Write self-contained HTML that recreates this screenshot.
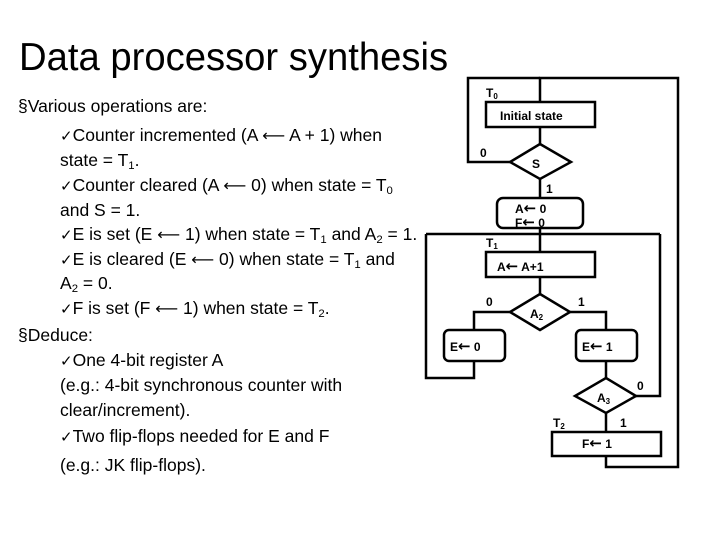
<!DOCTYPE html>
<html><head><style>
body{margin:0;width:720px;height:540px;background:#fff;position:relative;overflow:hidden;font-family:"Liberation Sans",sans-serif;}
.t{position:absolute;white-space:nowrap;font-size:17.5px;color:#000;line-height:1;}
.a{font-family:"DejaVu Sans",sans-serif;font-size:16px;}
.c{font-family:"DejaVu Sans",sans-serif;font-size:15px;}
h1{position:absolute;left:19px;top:38px;margin:0;font-weight:normal;font-size:39px;line-height:1;white-space:nowrap;transform:scaleX(0.98);transform-origin:left;}
sub{font-size:0.65em;vertical-align:-0.25em;line-height:0;}
</style></head><body>
<h1>Data processor synthesis</h1>
<div class="t" style="left:18px;top:98px">§Various operations are:</div>
<div class="t" style="left:60px;top:127px"><span class="c">✓</span>Counter incremented (A <span class="a">⟵</span> A + 1) when</div>
<div class="t" style="left:60px;top:152px">state = T<sub>1</sub>.</div>
<div class="t" style="left:60px;top:177px"><span class="c">✓</span>Counter cleared (A <span class="a">⟵</span> 0) when state = T<sub>0</sub></div>
<div class="t" style="left:60px;top:202px">and S = 1.</div>
<div class="t" style="left:60px;top:226px"><span class="c">✓</span>E is set (E <span class="a">⟵</span> 1) when state = T<sub>1</sub> and A<sub>2</sub> = 1.</div>
<div class="t" style="left:60px;top:251px"><span class="c">✓</span>E is cleared (E <span class="a">⟵</span> 0) when state = T<sub>1</sub> and</div>
<div class="t" style="left:60px;top:275px">A<sub>2</sub> = 0.</div>
<div class="t" style="left:60px;top:300px"><span class="c">✓</span>F is set (F <span class="a">⟵</span> 1) when state = T<sub>2</sub>.</div>
<div class="t" style="left:18px;top:327px">§Deduce:</div>
<div class="t" style="left:60px;top:352px"><span class="c">✓</span>One 4-bit register A</div>
<div class="t" style="left:60px;top:377px">(e.g.: 4-bit synchronous counter with</div>
<div class="t" style="left:60px;top:402px">clear/increment).</div>
<div class="t" style="left:60px;top:428px"><span class="c">✓</span>Two flip-flops needed for E and F</div>
<div class="t" style="left:60px;top:457px">(e.g.: JK flip-flops).</div>
<svg width="720" height="540" style="position:absolute;left:0;top:0" font-family="Liberation Sans,sans-serif" font-weight="bold" font-size="12">
<g fill="none" stroke="#000" stroke-width="2.5">
<polyline points="540,102 540,78 678,78 678,467 606,467 606,456"/>
<polyline points="540,127 540,144"/>
<polyline points="510,162 468,162 468,78 540,78"/>
<rect x="486" y="102" width="109" height="25"/>
<polygon points="540,144 571,162 540,179 510,162"/>
<line x1="540" y1="179" x2="540" y2="198"/>
<rect x="497" y="198" width="86" height="30" rx="6"/>
<line x1="540" y1="228" x2="540" y2="252"/>
<polyline points="426,234 660,234"/>
<rect x="486" y="252" width="109" height="25"/>
<line x1="540" y1="277" x2="540" y2="294"/>
<polygon points="540,294 570,312 540,330 510,312"/>
<polyline points="510,312 474,312 474,330"/>
<rect x="444" y="330" width="61" height="31" rx="5"/>
<polyline points="474,361 474,378 426,378 426,234"/>
<polyline points="570,312 606,312 606,330"/>
<rect x="576" y="330" width="61" height="31" rx="5"/>
<line x1="606" y1="361" x2="606" y2="378"/>
<polygon points="606,378 636,396 606,413 575,396"/>
<polyline points="636,396 660,396 660,234"/>
<line x1="606" y1="413" x2="606" y2="432"/>
<rect x="552" y="432" width="109" height="24"/>
</g>
<g fill="#000">
<text x="486" y="97">T<tspan font-size="8" dy="2">0</tspan></text>
<text x="500" y="120">Initial state</text>
<text x="480" y="157">0</text>
<text x="532" y="168">S</text>
<text x="546" y="193">1</text>
<text x="515" y="213">A<tspan font-family="DejaVu Sans" font-size="15">←</tspan> 0</text>
<text x="515" y="227">F<tspan font-family="DejaVu Sans" font-size="15">←</tspan> 0</text>
<text x="486" y="247">T<tspan font-size="8" dy="2">1</tspan></text>
<text x="497" y="271">A<tspan font-family="DejaVu Sans" font-size="15">←</tspan> A+1</text>
<text x="486" y="306">0</text>
<text x="530" y="318">A<tspan font-size="8" dy="2">2</tspan></text>
<text x="578" y="306">1</text>
<text x="450" y="351">E<tspan font-family="DejaVu Sans" font-size="15">←</tspan> 0</text>
<text x="582" y="351">E<tspan font-family="DejaVu Sans" font-size="15">←</tspan> 1</text>
<text x="597" y="402">A<tspan font-size="8" dy="2">3</tspan></text>
<text x="637" y="390">0</text>
<text x="620" y="427">1</text>
<text x="553" y="427">T<tspan font-size="8" dy="2">2</tspan></text>
<text x="582" y="448">F<tspan font-family="DejaVu Sans" font-size="15">←</tspan> 1</text>
</g>
</svg>
</body></html>
